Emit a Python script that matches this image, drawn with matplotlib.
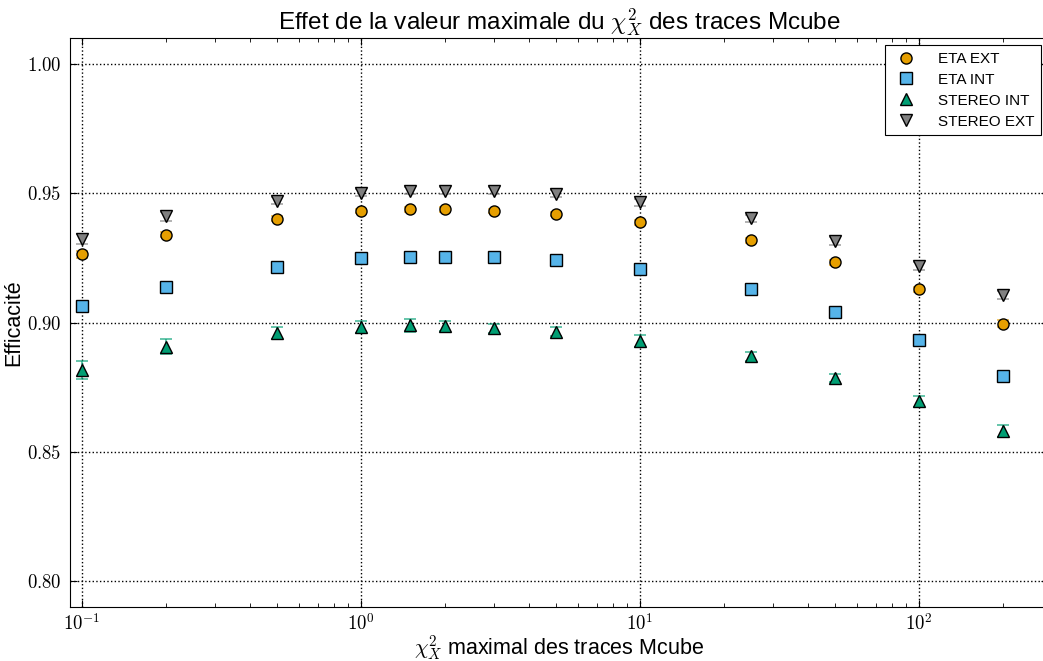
import numpy as np
import matplotlib
matplotlib.use('Agg')
import matplotlib.pyplot as plt
from matplotlib.ticker import FuncFormatter, LogLocator, FixedLocator

plt.rcParams['font.family'] = ['Liberation Sans', 'DejaVu Sans']
plt.rcParams['mathtext.fontset'] = 'cm'

# Valeurs maximales du chi2 testées
chi2_max = [0.1, 0.2, 0.5, 1, 1.5, 2, 3, 5, 10, 25, 50, 100, 200]

# Efficacités
eta_ext = [0.9263, 0.9340, 0.9402, 0.9430, 0.9437, 0.9437, 0.9430, 0.9421, 0.9387, 0.9318, 0.9232, 0.9128, 0.8996]
eta_int = [0.9062, 0.9139, 0.9213, 0.9248, 0.9255, 0.9255, 0.9255, 0.9240, 0.9208, 0.9131, 0.9040, 0.8931, 0.8792]
stereo_int = [0.8817, 0.8907, 0.8958, 0.8982, 0.8989, 0.8986, 0.8977, 0.8965, 0.8927, 0.8869, 0.8785, 0.8695, 0.8581]
stereo_ext = [0.9324, 0.9410, 0.9471, 0.9502, 0.9510, 0.9510, 0.9510, 0.9498, 0.9464, 0.9403, 0.9314, 0.9217, 0.9105]

# Barres d'erreur
eta_ext_err = [0.0012, 0.0010, 0.0009, 0.0008, 0.0008, 0.0008, 0.0008, 0.0008, 0.0009, 0.0009, 0.0010, 0.0011, 0.0012]
eta_int_err = [0.0020, 0.0014, 0.0012, 0.0011, 0.0011, 0.0011, 0.0011, 0.0011, 0.0012, 0.0012, 0.0013, 0.0013, 0.0014]
stereo_int_err = [0.0034, 0.0029, 0.0023, 0.0022, 0.0024, 0.0020, 0.0017, 0.0019, 0.0023, 0.0017, 0.0016, 0.0020, 0.0022]
stereo_ext_err = [0.0020, 0.0016, 0.0014, 0.0013, 0.0013, 0.0013, 0.0013, 0.0013, 0.0014, 0.0014, 0.0015, 0.0015, 0.0016]

series = [
    ('ETA EXT', eta_ext, eta_ext_err, 'o', '#E69F00'),
    ('ETA INT', eta_int, eta_int_err, 's', '#56B4E9'),
    ('STEREO INT', stereo_int, stereo_int_err, '^', '#009E73'),
    ('STEREO EXT', stereo_ext, stereo_ext_err, 'v', '#808080'),
]

fig = plt.figure(figsize=(10.43, 6.61), dpi=100)
ax = fig.add_axes([70 / 1043, 1 - 607 / 661, 978 / 1043, 569 / 661])

handles = []
for label, vals, err, marker, color in series:
    ax.errorbar(chi2_max, vals, yerr=err, fmt='none', ecolor=color, alpha=0.7,
                elinewidth=1.2, capsize=4, capthick=1.2, zorder=2)
    h, = ax.plot(chi2_max, vals, linestyle='none', marker=marker, markersize=8,
                 markerfacecolor=color, markeredgecolor='k', markeredgewidth=1,
                 label=label, zorder=3)
    handles.append(h)

ax.set_xscale('log')
ax.set_xlim(0.0906, 290)
ax.set_ylim(0.79, 1.01)

ax.yaxis.set_major_locator(FixedLocator([0.80, 0.85, 0.90, 0.95, 1.00]))
ax.yaxis.set_major_formatter(FuncFormatter(lambda v, p: r'$%.2f$' % v))
ax.xaxis.set_major_locator(LogLocator(base=10))
ax.xaxis.set_minor_locator(LogLocator(base=10, subs=np.arange(2, 10)))
ax.xaxis.set_major_formatter(FuncFormatter(lambda v, p: r'$10^{%d}$' % round(np.log10(v))))

ax.tick_params(which='both', direction='in', top=True, right=True, labelsize=13.5)
ax.tick_params(which='major', length=5)
ax.tick_params(which='minor', length=3)
ax.tick_params(axis='x', pad=4)
ax.tick_params(axis='y', pad=6)

ax.grid(True, which='major', color='k', linestyle=':', linewidth=1)

ax.set_title(r'Effet de la valeur maximale du $\chi^2_X$ des traces Mcube', fontsize=17.5, pad=5)
ax.set_xlabel(r'$\chi^2_X$ maximal des traces Mcube', fontsize=15.5, labelpad=0)
ax.set_ylabel('Efficacité', fontsize=15.5, labelpad=2)

leg = ax.legend(handles=handles, loc='upper right', numpoints=1, fontsize=11,
                bbox_to_anchor=(1041 / 1043, 1 - 45 / 661), bbox_transform=fig.transFigure,
                borderaxespad=0, fancybox=False, framealpha=1, handletextpad=1.2,
                labelspacing=0.45, handlelength=1.8, borderpad=0.45)
leg.get_frame().set_edgecolor('k')
leg.get_frame().set_linewidth(0.8)

fig.savefig('out.png', dpi=100)
